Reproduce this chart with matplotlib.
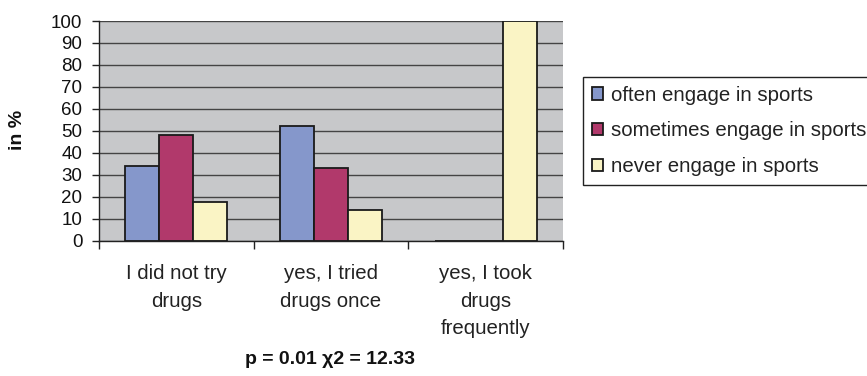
import matplotlib
matplotlib.use("Agg")
import matplotlib.pyplot as plt
import numpy as np

plt.rcParams['font.family'] = ['Liberation Sans', 'DejaVu Sans']

categories = ["I did not try\ndrugs", "yes, I tried\ndrugs once", "yes, I took\ndrugs\nfrequently"]
series_names = ["often engage in sports", "sometimes engage in sports", "never engage in sports"]
often = [34, 52, 0]
sometimes = [48, 33, 0]
never = [17.5, 14, 100]
y_ticks = [0, 10, 20, 30, 40, 50, 60, 70, 80, 90, 100]

colors = ["#8597CB", "#B1396B", "#FAF4C5"]

W, H = 867, 376
fig = plt.figure(figsize=(W / 100, H / 100), dpi=100)
fig.patch.set_facecolor("white")

left, right, top, bottom = 99, 563, 21, 240.7
ax = fig.add_axes([left / W, 1 - bottom / H, (right - left) / W, (bottom - top) / H])
ax.set_facecolor("#C7C8CA")

x = np.arange(len(categories))
bw = 0.22
for i, (vals, name, c) in enumerate(zip([often, sometimes, never], series_names, colors)):
    ax.bar(x + (i - 1) * bw, vals, width=bw, color=c, edgecolor="#1a1a1a",
           linewidth=1.3, label=name, zorder=3)

ax.set_xlim(-0.5, 2.5)
ax.set_ylim(0, 100)
ax.set_yticks(y_ticks)
ax.yaxis.grid(True, color="#444444", linewidth=1.0, zorder=1)
ax.set_axisbelow(True)

for s in ["top", "right"]:
    ax.spines[s].set_visible(False)
ax.spines["left"].set_color("#222222")
ax.spines["bottom"].set_color("#222222")
ax.spines["left"].set_linewidth(1.0)
ax.spines["bottom"].set_linewidth(1.0)
ax.spines["bottom"].set_zorder(4)

ax.tick_params(axis="y", direction="out", length=5, width=1.0, color="#222222",
               labelsize=13.5, pad=7, labelcolor="#111111")
ax.set_xticks(x)
ax.set_xticklabels(categories, fontsize=14.7, color="#222222", linespacing=1.56)
ax.tick_params(axis="x", which="major", length=0, pad=17)
ax.set_xticks([-0.5, 0.5, 1.5, 2.5], minor=True)
ax.tick_params(axis="x", which="minor", direction="out", length=6, width=1.0, color="#222222")

fig.text(18 / W, 1 - 130 / H, "in %", rotation=90, fontsize=14, fontweight="bold",
         ha="center", va="center", color="#111111")
fig.text(330 / W, 1 - 359 / H, "p = 0.01 χ2 = 12.33", fontsize=14, fontweight="bold",
         ha="center", va="center", color="#111111")

leg = fig.legend(loc="upper left", bbox_to_anchor=(583 / W, 1 - 77 / H), fontsize=14.7,
                 frameon=True, fancybox=False, edgecolor="#222222", framealpha=1,
                 handlelength=0.55, handleheight=0.55, handletextpad=0.4,
                 labelspacing=0.82, borderpad=0.42, borderaxespad=0)
leg.get_frame().set_linewidth(1.0)
for t in leg.get_texts():
    t.set_color("#222222")

fig.savefig("out.png", dpi=100)
